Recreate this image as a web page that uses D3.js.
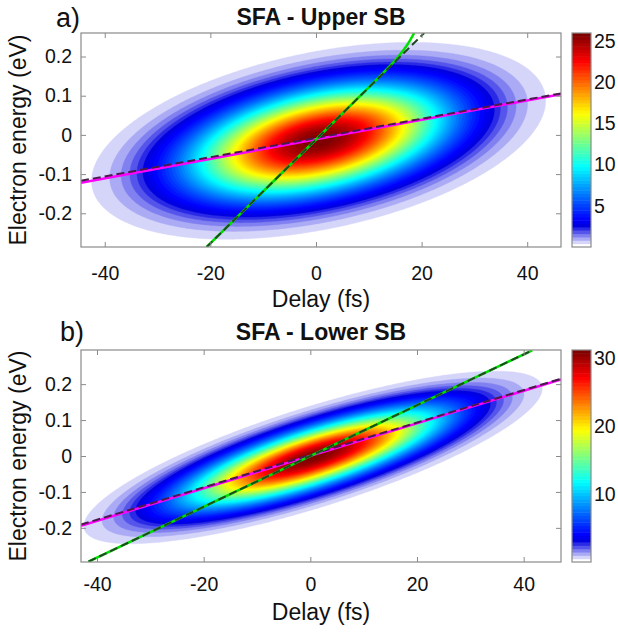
<!DOCTYPE html>
<html>
<head>
<meta charset="utf-8">
<script src="https://cdn.jsdelivr.net/npm/d3@7"></script>
<style>
  body { margin: 0; background: #fff; }
  svg { font-family: "Liberation Sans", Arial, sans-serif; }
</style>
</head>
<body>
<svg id="chart" width="618" height="632"></svg>
<script>
// #Data
const panelLetters = ['a)', 'b)'];
const panelTitles = ['SFA - Upper SB', 'SFA - Lower SB'];
const delayTicks = [-40, -20, 0, 20, 40];
const energyTicks = [-0.2, -0.1, 0, 0.1, 0.2];
const colorTicks = [[5, 10, 15, 20, 25], [10, 20, 30]];
const delayDomains = [[-44.5, 46.4], [-43, 47]];
const energyDomains = [[-0.286, 0.26], [-0.295, 0.295]];
const colorMax = [26, 31.2];

// sideband yield: peak, centre, widths, profile exponent and energy-delay tilt of each ellipse
const peakYield = [25.9, 31];
const centreDelay = [0.5, 0.5];
const centreEnergy = [-0.015, -0.004];
const widthDelay = [22.5, 22.5];
const widthEnergy = [0.12, 0.076];
const profileExponent = [2.2, 2.2];
const tiltEnergy = [0.00238, 0.00445];

// fitted lines, [delay, energy] points
const magentaLine = [[[-44.5, -0.122], [46.4, 0.104]], [[-43, -0.194], [47, 0.213]]];
const magentaDashed = [[[-44.5, -0.117], [46.4, 0.106]], [[-43, -0.191], [47, 0.215]]];
const greenLine = [
  [[-20.7, -0.286], [0, -0.0117], [10, 0.121], [13, 0.162], [15.5, 0.198], [17.3, 0.23], [18.6, 0.26]],
  [[-41.6, -0.294], [41.6, 0.294]]
];
const greenDashed = [[[-20.7, -0.286], [20.5, 0.26]], [[-41.6, -0.294], [41.6, 0.294]]];

// #Layout
const plotLeft = 81;
const plotRight = 561;
const plotTops = [33, 350];
const plotBottoms = [247, 562];
const cbarX = 572;
const cbarW = 19;
const boxColor = '#8a8a8a';
const cell = 2;
const nColors = 64;
const nRamp = 6;

const svg = d3.select('#chart');

// 64-entry jet, first entries replaced by a white -> blue ramp
const clamp = v => Math.max(0, Math.min(1, v));
const jet = f => [clamp(1.5 - Math.abs(4 * f - 3)), clamp(1.5 - Math.abs(4 * f - 2)), clamp(1.5 - Math.abs(4 * f - 1))];
const colorEntry = i => {
  if (i < nRamp) {
    const end = jet(nRamp / (nColors - 1));
    const t = i / nRamp;
    return d3.rgb(255 * (1 - t + t * end[0]), 255 * (1 - t + t * end[1]), 255 * (1 - t + t * end[2])).toString();
  }
  const c = jet(i / (nColors - 1));
  return d3.rgb(255 * c[0], 255 * c[1], 255 * c[2]).toString();
};
const tickText = d => String(d);

[0, 1].forEach(p => {
  const top = plotTops[p];
  const bottom = plotBottoms[p];
  const xScale = d3.scaleLinear().domain(delayDomains[p]).range([plotLeft, plotRight]);
  const yScale = d3.scaleLinear().domain(energyDomains[p]).range([bottom, top]);
  const g = svg.append('g');

  // ##Yield map on a grid, filled contours like contourf
  const nx = Math.round((plotRight - plotLeft) / cell);
  const ny = Math.round((bottom - top) / cell);
  const values = new Float64Array(nx * ny);
  for (let j = 0; j < ny; j++) {
    const e = yScale.invert(top + (j + 0.5) * cell);
    for (let i = 0; i < nx; i++) {
      const t = xScale.invert(plotLeft + (i + 0.5) * cell);
      const u = (t - centreDelay[p]) / widthDelay[p];
      const v = (e - centreEnergy[p] - tiltEnergy[p] * (t - centreDelay[p])) / widthEnergy[p];
      const rho = Math.sqrt(u * u + v * v);
      values[j * nx + i] = peakYield[p] * Math.exp(-Math.pow(rho, profileExponent[p]));
    }
  }
  const step = colorMax[p] / nColors;
  const levels = d3.range(1, nColors).map(i => i * step);
  const contours = d3.contours().size([nx, ny]).thresholds(levels)(values);
  const path = d3.geoPath(d3.geoIdentity().scale(cell).translate([plotLeft, top]));
  const fillOf = d => colorEntry(Math.round(d.value / step));

  const clipId = 'clip' + p;
  svg.append('clipPath').attr('id', clipId)
     .append('rect').attr('x', plotLeft).attr('y', top)
     .attr('width', plotRight - plotLeft).attr('height', bottom - top);

  const maps = g.append('g').attr('clip-path', 'url(#' + clipId + ')');
  maps.selectAll('path.level')
      .data(contours)
      .enter()
      .append('path')
      .attr('class', 'level')
      .attr('d', path)
      .attr('fill', fillOf)
      .attr('stroke', fillOf)
      .attr('stroke-width', 0.4);

  // ##Lines
  const line = d3.line().x(d => xScale(d[0])).y(d => yScale(d[1])).curve(d3.curveCatmullRom);
  maps.append('path').attr('d', line(magentaLine[p]))
      .attr('fill', 'none').attr('stroke', '#ff00ff').attr('stroke-width', 2.5);
  maps.append('path').attr('d', line(magentaDashed[p]))
      .attr('fill', 'none').attr('stroke', '#4a1a4a').attr('stroke-width', 2)
      .attr('stroke-dasharray', '8,4');
  maps.append('path').attr('d', line(greenLine[p]))
      .attr('fill', 'none').attr('stroke', '#00e000').attr('stroke-width', 2.5);
  maps.append('path').attr('d', line(greenDashed[p]))
      .attr('fill', 'none').attr('stroke', '#1f4a1f').attr('stroke-width', 2)
      .attr('stroke-dasharray', '8,4');

  // ##Axes, ticks inward on all four sides
  const styleAxis = sel => {
    sel.select('.domain').remove();
    sel.selectAll('line').attr('stroke', boxColor);
    sel.selectAll('text').attr('font-size', '19.5px').attr('fill', '#111');
  };
  g.append('g').attr('transform', 'translate(0,' + bottom + ')')
   .call(d3.axisBottom(xScale).tickValues(delayTicks).tickSizeInner(-5).tickSizeOuter(0)
           .tickPadding(p === 0 ? 19 : 15).tickFormat(tickText))
   .call(styleAxis);
  g.append('g').attr('transform', 'translate(0,' + top + ')')
   .call(d3.axisTop(xScale).tickValues(delayTicks).tickSizeInner(-5).tickSizeOuter(0).tickFormat(''))
   .call(styleAxis);
  g.append('g').attr('transform', 'translate(' + plotLeft + ',0)')
   .call(d3.axisLeft(yScale).tickValues(energyTicks).tickSizeInner(-5).tickSizeOuter(0)
           .tickPadding(9).tickFormat(tickText))
   .call(styleAxis);
  g.append('g').attr('transform', 'translate(' + plotRight + ',0)')
   .call(d3.axisRight(yScale).tickValues(energyTicks).tickSizeInner(-5).tickSizeOuter(0).tickFormat(''))
   .call(styleAxis);

  g.append('rect')
   .attr('x', plotLeft).attr('y', top)
   .attr('width', plotRight - plotLeft).attr('height', bottom - top)
   .attr('fill', 'none').attr('stroke', boxColor).attr('stroke-width', 1.2);

  // ##Colorbar
  const cScale = d3.scaleLinear().domain([0, colorMax[p]]).range([bottom, top]);
  g.append('g').selectAll('rect')
   .data(d3.range(0, nColors))
   .enter()
   .append('rect')
   .attr('x', cbarX)
   .attr('y', i => cScale((i + 1) * step))
   .attr('width', cbarW)
   .attr('height', i => cScale(i * step) - cScale((i + 1) * step) + 0.5)
   .attr('fill', i => colorEntry(i));
  g.append('rect')
   .attr('x', cbarX).attr('y', top)
   .attr('width', cbarW).attr('height', bottom - top)
   .attr('fill', 'none').attr('stroke', boxColor).attr('stroke-width', 1.2);
  g.append('g').attr('transform', 'translate(' + (cbarX + cbarW) + ',0)')
   .call(d3.axisRight(cScale).tickValues(colorTicks[p]).tickSize(0).tickPadding(3))
   .call(styleAxis);

  // ##Texts
  g.append('text')
   .attr('x', (plotLeft + plotRight) / 2).attr('y', p === 0 ? 25 : 340)
   .attr('text-anchor', 'middle').attr('font-size', '23px').attr('font-weight', 'bold')
   .attr('fill', '#111')
   .text(panelTitles[p]);
  g.append('text')
   .attr('x', p === 0 ? 56 : 60).attr('y', p === 0 ? 27 : 341)
   .attr('font-size', '27px').attr('fill', '#111')
   .text(panelLetters[p]);
  g.append('text')
   .attr('x', (plotLeft + plotRight) / 2).attr('y', p === 0 ? 307 : 620)
   .attr('text-anchor', 'middle').attr('font-size', '23px').attr('fill', '#111')
   .text('Delay (fs)');
  g.append('text')
   .attr('transform', 'translate(26,' + (top + bottom) / 2 + ') rotate(-90)')
   .attr('text-anchor', 'middle').attr('font-size', '23px').attr('fill', '#111')
   .text('Electron energy (eV)');
});
</script>
</body>
</html>
